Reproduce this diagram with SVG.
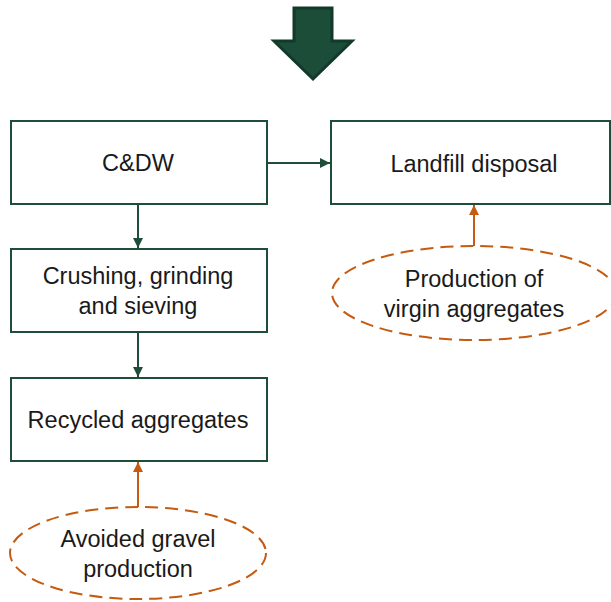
<svg xmlns="http://www.w3.org/2000/svg" width="611" height="602" viewBox="0 0 611 602">
<style>
.box{fill:#fff;stroke:#1e4d3a;stroke-width:2}
.ell{fill:none;stroke:#c55a11;stroke-width:2;stroke-dasharray:13 7}
.t{font-family:"Liberation Sans",Arial,sans-serif;font-size:23.5px;fill:#1a1a1a;text-anchor:middle}
.g{stroke:#1e4d3a;stroke-width:2;fill:none}
.o{stroke:#c55a11;stroke-width:2;fill:none}
</style>
<defs>
<marker id="ag" viewBox="0 0 10 10" refX="10" refY="5" markerWidth="5" markerHeight="5" orient="auto"><path d="M0,0L10,5L0,10z" fill="#1e4d3a"/></marker>
<marker id="ao" viewBox="0 0 10 10" refX="10" refY="5" markerWidth="5" markerHeight="5" orient="auto"><path d="M0,0L10,5L0,10z" fill="#c55a11"/></marker>
</defs>
<g id="bigarrow"><polygon points="294,8 332,8 332,41 352,41 313,79 274,41 294,41" fill="#1b4d38" stroke="#12392a" stroke-width="3"/></g>
<g id="connectors">
<line class="g" x1="267" y1="163" x2="330" y2="163" marker-end="url(#ag)"/>
<line class="g" x1="138" y1="204" x2="138" y2="248" marker-end="url(#ag)"/>
<line class="g" x1="138" y1="332" x2="138" y2="377" marker-end="url(#ag)"/>
<line class="o" x1="474" y1="246" x2="474" y2="205" marker-end="url(#ao)"/>
<line class="o" x1="138" y1="507" x2="138" y2="462" marker-end="url(#ao)"/>
</g>
<g id="cdw"><rect class="box" x="11" y="121" width="256" height="83"/><text class="t" x="138" y="171">C&amp;DW</text></g>
<g id="landfill"><rect class="box" x="331" y="121" width="279" height="83"/><text class="t" x="474" y="172">Landfill disposal</text></g>
<g id="crushing"><rect class="box" x="11" y="249" width="256" height="83"/><text class="t" x="138" y="284">Crushing, grinding</text><text class="t" x="138" y="314">and sieving</text></g>
<g id="recycled"><rect class="box" x="11" y="378" width="256" height="83"/><text class="t" x="138" y="428">Recycled aggregates</text></g>
<g id="virgin"><ellipse class="ell" cx="474" cy="293" rx="142" ry="47"/><text class="t" x="474" y="287">Production of</text><text class="t" x="474" y="317">virgin aggregates</text></g>
<g id="avoided"><ellipse class="ell" cx="138" cy="553" rx="128" ry="46"/><text class="t" x="138" y="547">Avoided gravel</text><text class="t" x="138" y="577">production</text></g>
</svg>
